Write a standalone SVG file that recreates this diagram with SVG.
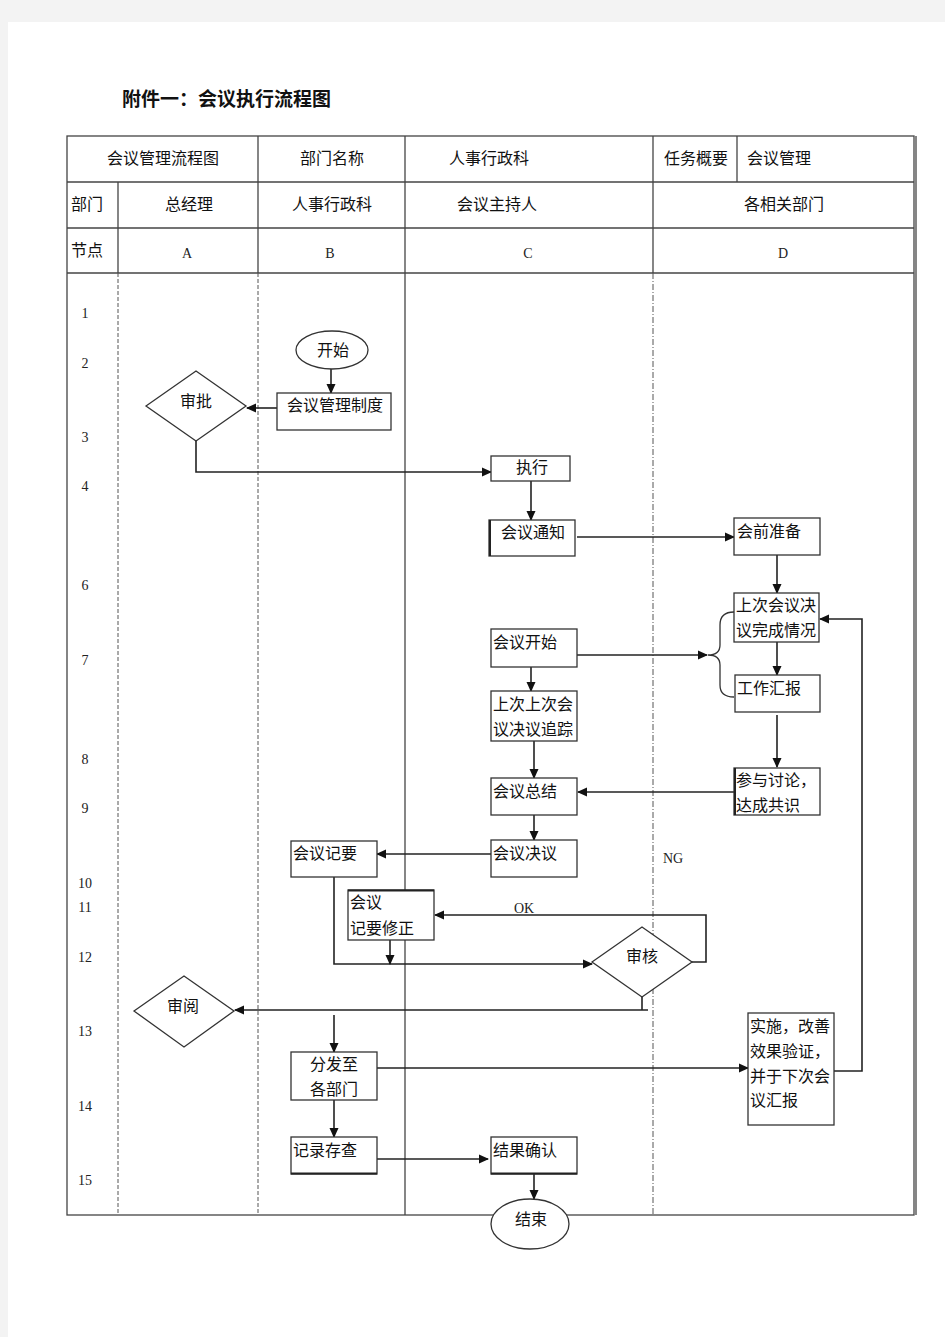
<svg xmlns="http://www.w3.org/2000/svg" width="945" height="1337" viewBox="0 0 945 1337">
<style>
.t{font-family:"Noto Sans CJK SC","Liberation Sans",sans-serif;font-size:16px;fill:#111}
.c{text-anchor:middle}
.s{font-family:"Liberation Serif","Noto Sans CJK SC",serif;font-size:14px;fill:#222}
.box{fill:#fff;stroke:#333;stroke-width:1.3}
.ln{fill:none;stroke:#222;stroke-width:1.6}
.grid{stroke:#444;stroke-width:1.3;fill:none}
</style>
<defs>
<marker id="ah" markerWidth="10" markerHeight="10" refX="9" refY="5" orient="auto" markerUnits="userSpaceOnUse">
<path d="M0,0.5 L10,5 L0,9.5 Z" fill="#111"/>
</marker>
</defs>
<rect x="0" y="0" width="945" height="1337" fill="#f3f3f3"/>
<rect x="8" y="22" width="937" height="1315" fill="#fff"/>
<text x="122" y="106" font-family="Liberation Serif,'Noto Sans CJK SC',serif" font-weight="bold" font-size="19" fill="#111">附件一：会议执行流程图</text>

<g id="table">
<rect x="67" y="136" width="847" height="1079" class="grid"/>
<line x1="916" y1="136" x2="916" y2="1215" class="grid"/>
<line x1="67" y1="182" x2="914" y2="182" class="grid"/>
<line x1="67" y1="228" x2="914" y2="228" class="grid"/>
<line x1="67" y1="273" x2="914" y2="273" class="grid"/>
<line x1="118" y1="182" x2="118" y2="273" class="grid"/>
<line x1="258" y1="136" x2="258" y2="273" class="grid"/>
<line x1="405" y1="136" x2="405" y2="1215" class="grid"/>
<line x1="653" y1="136" x2="653" y2="273" class="grid"/>
<line x1="737" y1="136" x2="737" y2="182" class="grid"/>
<line x1="118" y1="273" x2="118" y2="1215" stroke="#555" stroke-width="1" stroke-dasharray="4,2"/>
<line x1="258" y1="273" x2="258" y2="1215" stroke="#555" stroke-width="1" stroke-dasharray="4,2"/>
<line x1="653" y1="273" x2="653" y2="1215" stroke="#555" stroke-width="1" stroke-dasharray="6,2,1,2"/>
<text x="163" y="164" class="t c">会议管理流程图</text>
<text x="332" y="164" class="t c">部门名称</text>
<text x="489" y="164" class="t c">人事行政科</text>
<text x="696" y="164" class="t c">任务概要</text>
<text x="747" y="164" class="t">会议管理</text>
<text x="71" y="210" class="t">部门</text>
<text x="189" y="210" class="t c">总经理</text>
<text x="332" y="210" class="t c">人事行政科</text>
<text x="497" y="210" class="t c">会议主持人</text>
<text x="784" y="210" class="t c">各相关部门</text>
<text x="71" y="256" class="t">节点</text>
<text x="187" y="258" class="s c">A</text>
<text x="330" y="258" class="s c" fill="#3a2050">B</text>
<text x="528" y="258" class="s c" fill="#5a3a10">C</text>
<text x="783" y="258" class="s c" fill="#6a3a10">D</text>
<text x="85" y="318" class="s c">1</text>
<text x="85" y="368" class="s c">2</text>
<text x="85" y="442" class="s c">3</text>
<text x="85" y="491" class="s c">4</text>
<text x="85" y="590" class="s c">6</text>
<text x="85" y="665" class="s c">7</text>
<text x="85" y="764" class="s c">8</text>
<text x="85" y="813" class="s c">9</text>
<text x="85" y="888" class="s c">10</text>
<text x="85" y="912" class="s c">11</text>
<text x="85" y="962" class="s c">12</text>
<text x="85" y="1036" class="s c">13</text>
<text x="85" y="1111" class="s c">14</text>
<text x="85" y="1185" class="s c">15</text>
</g>

<g id="connectors">
<line x1="331" y1="369" x2="331" y2="393" class="ln" marker-end="url(#ah)"/>
<line x1="277" y1="408" x2="247" y2="408" class="ln" marker-end="url(#ah)"/>
<polyline points="196,441 196,472 491,472" class="ln" marker-end="url(#ah)"/>
<line x1="531" y1="481" x2="531" y2="520" class="ln" marker-end="url(#ah)"/>
<line x1="577" y1="537" x2="734" y2="537" class="ln" marker-end="url(#ah)"/>
<line x1="777" y1="555" x2="777" y2="593" class="ln" marker-end="url(#ah)"/>
<line x1="777" y1="642" x2="777" y2="675" class="ln" marker-end="url(#ah)"/>
<line x1="577" y1="655" x2="707" y2="655" class="ln" marker-end="url(#ah)"/>
<path d="M734,612 Q720,612 720,625 L720,645 Q720,655 708,655 Q720,655 720,665 L720,685 Q720,697 734,697" fill="none" stroke="#333" stroke-width="1.3"/>
<line x1="777" y1="715" x2="777" y2="767" class="ln" marker-end="url(#ah)"/>
<line x1="734" y1="792" x2="578" y2="792" class="ln" marker-end="url(#ah)"/>
<line x1="531" y1="667" x2="531" y2="691" class="ln" marker-end="url(#ah)"/>
<line x1="534" y1="741" x2="534" y2="778" class="ln" marker-end="url(#ah)"/>
<line x1="534" y1="815" x2="534" y2="840" class="ln" marker-end="url(#ah)"/>
<line x1="491" y1="854" x2="377" y2="854" class="ln" marker-end="url(#ah)"/>
<polyline points="334,877 334,964 592,964" class="ln" marker-end="url(#ah)"/>
<line x1="390" y1="940" x2="390" y2="964" class="ln" marker-end="url(#ah)"/>
<polyline points="692,962 706,962 706,915 435,915" class="ln" marker-end="url(#ah)"/>
<polyline points="642,997 642,1010" class="ln"/>
<line x1="648" y1="1010" x2="235" y2="1010" class="ln" marker-end="url(#ah)"/>
<line x1="334" y1="1015" x2="334" y2="1052" class="ln" marker-end="url(#ah)"/>
<line x1="377" y1="1068" x2="748" y2="1068" class="ln" marker-end="url(#ah)"/>
<polyline points="834,1071 862,1071 862,619 820,619" class="ln" marker-end="url(#ah)"/>
<line x1="334" y1="1100" x2="334" y2="1137" class="ln" marker-end="url(#ah)"/>
<line x1="377" y1="1159" x2="488" y2="1159" class="ln" marker-end="url(#ah)"/>
<line x1="534" y1="1174" x2="534" y2="1199" class="ln" marker-end="url(#ah)"/>
<text x="524" y="913" class="s c">OK</text>
<text x="673" y="863" class="s c">NG</text>
</g>

<g id="start"><ellipse cx="332" cy="350" rx="36" ry="19" class="box"/><text x="333" y="356" class="t c">开始</text></g>
<g id="zhidu"><rect x="277" y="393" width="114" height="37" class="box"/><text x="335" y="411" class="t c">会议管理制度</text></g>
<g id="shenpi"><polygon points="146,406 196,371 246,406 196,441" class="box"/><text x="196" y="407" class="t c">审批</text></g>
<g id="zhixing"><rect x="491" y="456" width="79" height="25" class="box"/><text x="532" y="473" class="t c">执行</text></g>
<g id="tongzhi"><rect x="489" y="520" width="86" height="36" class="box"/><line x1="490" y1="520" x2="490" y2="556" stroke="#222" stroke-width="2"/><text x="533" y="538" class="t c">会议通知</text></g>
<g id="huiqian"><rect x="734" y="518" width="86" height="37" class="box" stroke-width="2"/><text x="737" y="537" class="t">会前准备</text></g>
<g id="shangci"><rect x="734" y="593" width="85" height="49" class="box"/><text x="736" y="611" class="t">上次会议决</text><text x="736" y="636" class="t">议完成情况</text></g>
<g id="huibao"><rect x="735" y="675" width="85" height="37" class="box"/><text x="737" y="694" class="t">工作汇报</text></g>
<g id="taolun"><rect x="734" y="768" width="86" height="47" class="box"/><line x1="735" y1="768" x2="735" y2="815" stroke="#222" stroke-width="2"/><text x="736" y="786" class="t">参与讨论，</text><text x="736" y="811" class="t">达成共识</text></g>
<g id="kaishi"><rect x="491" y="629" width="86" height="38" class="box"/><text x="493" y="648" class="t">会议开始</text></g>
<g id="zhuizong"><rect x="491" y="691" width="86" height="50" class="box"/><text x="493" y="710" class="t">上次上次会</text><text x="493" y="735" class="t">议决议追踪</text></g>
<g id="zongjie"><rect x="491" y="778" width="86" height="37" class="box"/><text x="493" y="797" class="t">会议总结</text></g>
<g id="jueyi"><rect x="491" y="840" width="86" height="37" class="box"/><text x="493" y="859" class="t">会议决议</text></g>
<g id="jiyao"><rect x="291" y="841" width="86" height="36" class="box"/><text x="293" y="859" class="t">会议记要</text></g>
<g id="xiuzheng"><rect x="348" y="890" width="86" height="50" class="box"/><line x1="348" y1="890.5" x2="434" y2="890.5" stroke="#222" stroke-width="2"/><text x="350" y="908" class="t">会议</text><text x="350" y="934" class="t">记要修正</text></g>
<g id="shenhe"><polygon points="592,962 642,927 692,962 642,997" class="box"/><text x="642" y="962" class="t c">审核</text></g>
<g id="shenyue"><polygon points="134,1011 184,976 234,1011 184,1047" class="box"/><text x="183" y="1012" class="t c">审阅</text></g>
<g id="fenfa"><rect x="291" y="1052" width="86" height="48" class="box"/><text x="334" y="1070" class="t c">分发至</text><text x="334" y="1095" class="t c">各部门</text></g>
<g id="shishi"><rect x="748" y="1013" width="86" height="112" class="box"/><text x="750" y="1032" class="t">实施，改善</text><text x="750" y="1057" class="t">效果验证，</text><text x="750" y="1082" class="t">并于下次会</text><text x="750" y="1106" class="t">议汇报</text></g>
<g id="jilu"><rect x="291" y="1137" width="86" height="37" class="box"/><line x1="291" y1="1173.5" x2="377" y2="1173.5" stroke="#222" stroke-width="2"/><text x="293" y="1156" class="t">记录存查</text></g>
<g id="queren"><rect x="491" y="1137" width="86" height="37" class="box"/><line x1="491" y1="1173.5" x2="577" y2="1173.5" stroke="#222" stroke-width="2"/><text x="493" y="1156" class="t">结果确认</text></g>
<g id="end"><ellipse cx="530" cy="1224" rx="39" ry="25" class="box"/><text x="531" y="1225" class="t c">结束</text></g>
</svg>
